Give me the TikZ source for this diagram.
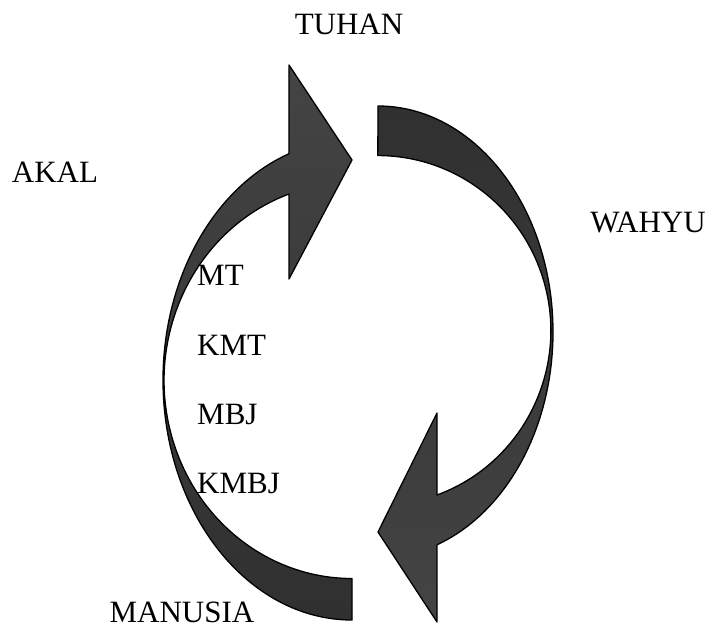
\documentclass[tikz,border=0pt]{standalone}
\usepackage{fontspec}
\setmainfont{Liberation Serif}
\usepackage{tikz}
\usetikzlibrary{calc, positioning}
\definecolor{arrowdark}{RGB}{48,48,48}
\definecolor{arrowlight}{RGB}{68,68,68}
\tikzset{
 curvedarrow/.style={draw=black, line width=1.3pt, line join=round},
 lbl/.style={font=\fontsize{31}{36}\selectfont, inner sep=0pt},
}

\begin{document}
\begin{tikzpicture}[x=1pt, y=1pt]
 \useasboundingbox (0,0) rectangle (712,-634);
 % right arrow: TUHAN down to MANUSIA
 \draw [curvedarrow, top color=arrowdark, bottom color=arrowlight] (378,-106) arc [start angle=90, end angle=-70.3, x radius=175, y radius=226] -- (437,-622) -- (378,-532) -- (437,-413) -- (437,-495) arc [start angle=-70, end angle=90, x radius=173, y radius=175] -- cycle;
 % left arrow: MANUSIA up to TUHAN
 \draw [curvedarrow, top color=arrowlight, bottom color=arrowdark] (352,-620) arc [start angle=270, end angle=109.5, x radius=189, y radius=240] -- (289,-65) -- (352,-160) -- (289,-279) -- (289,-194) arc [start angle=109.6, end angle=270, x radius=188, y radius=198] -- cycle;
 \node [lbl, anchor=base] (tuhan) at (349,-35) {TUHAN};
 \node [lbl, anchor=base] (akal) at (55,-182) {AKAL};
 \node [lbl, anchor=base] (wahyu) at (648,-232) {WAHYU};
 \node [lbl, anchor=base] (manusia) at (182,-622) {MANUSIA};
 \node [lbl, anchor=base west] (mt) at (197,-285) {MT};
 \node [lbl, anchor=base west] (kmt) at (197,-355) {KMT};
 \node [lbl, anchor=base west] (mbj) at (197,-424) {MBJ};
 \node [lbl, anchor=base west] (kmbj) at (197,-493) {KMBJ};
\end{tikzpicture}
\end{document}
